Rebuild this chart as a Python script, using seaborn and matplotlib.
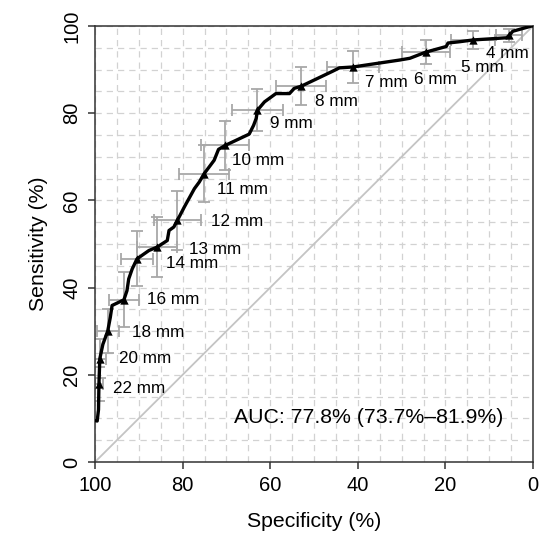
import matplotlib
matplotlib.use("Agg")
import matplotlib.pyplot as plt
import numpy as np
import pandas as pd
import seaborn as sns

# ROC curve vertices (specificity %, sensitivity %)
curve_spec = [100.0, 99.5, 99.2, 99.1, 98.9, 98.2, 97.1, 96.5, 96.1, 93.4, 92.7, 92.3, 91.5,
              90.4, 87.7, 85.8, 83.5, 83.1, 82.0, 81.2, 79.6, 77.3, 76.2, 75.1, 72.8, 71.8,
              70.3, 64.8, 63.8, 63.2, 62.9, 61.3, 58.7, 55.6, 54.5, 52.9, 45.8, 44.2, 41.1,
              30.4, 28.1, 24.5, 19.8, 19.4, 16.7, 13.7, 6.0, 5.4, 4.6, 0.3, 0.0]
curve_sens = [9.5, 9.4, 12.0, 17.9, 23.7, 27.0, 30.0, 33.2, 35.9, 37.2, 39.3, 42.0, 44.3,
              46.6, 48.5, 49.3, 50.8, 53.1, 53.9, 55.4, 58.5, 62.7, 64.2, 66.1, 69.2, 71.7,
              72.6, 75.2, 77.2, 78.8, 80.7, 82.6, 84.5, 84.5, 85.7, 86.2, 89.6, 90.4, 90.6,
              92.2, 92.6, 94.0, 95.3, 96.1, 96.4, 96.8, 97.3, 97.9, 98.8, 100.0, 100.0]

# thresholds shown on the curve with their confidence intervals
thresholds = [22, 20, 18, 16, 14, 13, 12, 11, 10, 9, 8, 7, 6, 5, 4]
thr_spec = [99.1, 98.9, 97.1, 93.4, 90.4, 85.8, 81.2, 75.1, 70.3, 62.9, 52.9, 41.1, 24.5, 13.7, 5.4]
thr_sens = [17.9, 23.7, 30.0, 37.2, 46.6, 49.3, 55.4, 66.1, 72.6, 80.7, 86.2, 90.6, 94.0, 96.8, 97.9]
spec_ci = [1.0, 1.5, 2.5, 3.4, 3.6, 4.5, 5.3, 5.7, 5.5, 5.9, 5.7, 6.0, 5.5, 5.0, 3.0]
sens_ci = [4.0, 4.5, 5.0, 6.3, 6.3, 6.8, 6.7, 6.5, 5.7, 4.8, 4.4, 3.6, 2.8, 2.1, 1.5]

# label offsets from the marker, in pixels (right, down)
label_dx = [14, 19, 24, 23, 29, 32, 34, 13, 7, 13, 14, 12, -12, -12, -23]
label_dy = [5, 0, 1, 0, 5, 2, 1, 16, 15, 13, 15, 16, 27, 28, 18]

auc_text = "AUC: 77.8% (73.7%\u201381.9%)"

sns.set_style("white")
plt.rcParams["font.family"] = ["Liberation Sans", "DejaVu Sans"]
plt.rcParams["text.color"] = "black"
plt.rcParams["axes.labelcolor"] = "black"
plt.rcParams["xtick.labelcolor"] = "black"
plt.rcParams["ytick.labelcolor"] = "black"

curve = pd.DataFrame({"spec": curve_spec, "sens": curve_sens})
points = pd.DataFrame({"spec": thr_spec, "sens": thr_sens, "thr": thresholds})

fig = plt.figure(figsize=(5.4, 5.47), dpi=100)
ax = fig.add_axes([95 / 540, 85 / 547, 438 / 540, 436 / 547])

# grid every 5 units
ax.set_xticks(np.arange(0, 101, 5), minor=True)
ax.set_yticks(np.arange(0, 101, 5), minor=True)
ax.grid(True, which="both", color="#d2d2d2", linestyle=(0, (5, 4)), linewidth=0.9)
ax.set_axisbelow(True)

ax.plot([100, 0], [0, 100], color="#c4c4c4", linewidth=1.3, zorder=1)

ax.errorbar(points["spec"], points["sens"], xerr=spec_ci, yerr=sens_ci, fmt="none",
            ecolor="#a8a8a8", elinewidth=1.3, capsize=4, capthick=1.3, zorder=2)

sns.lineplot(data=curve, x="spec", y="sens", sort=False, estimator=None, color="black",
             linewidth=2.4, ax=ax, zorder=3)
sns.scatterplot(data=points, x="spec", y="sens", marker="^", color="black", s=36,
                edgecolor="black", linewidth=0, ax=ax, zorder=4)

for sp, se, t, dx, dy in zip(thr_spec, thr_sens, thresholds, label_dx, label_dy):
    ax.annotate(f"{t} mm", (sp, se), xytext=(dx * 0.72, -dy * 0.72), textcoords="offset points",
                ha="left", va="center", fontsize=12.3, color="black", zorder=5)

ax.text(68.2, 10.1, auc_text, ha="left", va="center", fontsize=15.3, color="black")

ax.set_xlim(100, 0)
ax.set_ylim(0, 100)
ax.set_xticks([100, 80, 60, 40, 20, 0])
ax.set_yticks([0, 20, 40, 60, 80, 100])
ax.tick_params(which="major", direction="out", length=5, width=1.1, color="#333333",
               labelsize=14.5, pad=5, bottom=True, left=True)
ax.tick_params(which="minor", length=0)
for lab in ax.get_yticklabels():
    lab.set_rotation(90)
    lab.set_va("center")
for s in ax.spines.values():
    s.set_color("#333333")
    s.set_linewidth(1.1)

ax.set_xlabel("Specificity (%)", fontsize=15.3, labelpad=12)
ax.set_ylabel("Sensitivity (%)", fontsize=15.3, labelpad=10)

fig.savefig("out.png", dpi=100)
